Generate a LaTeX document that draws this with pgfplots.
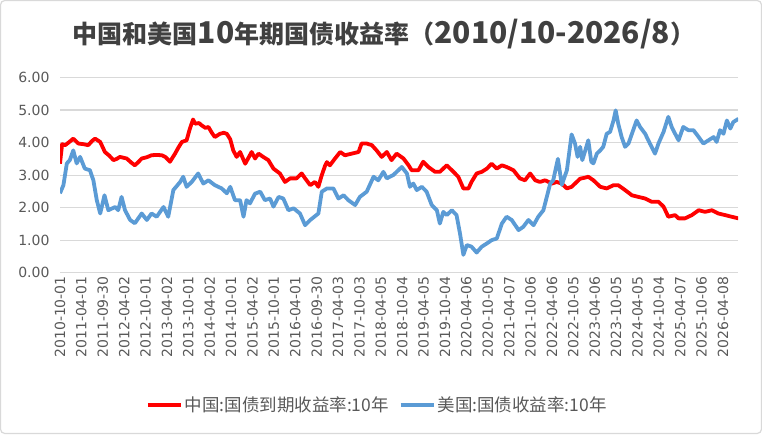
\documentclass[border=0pt]{standalone}
\usepackage{pgfplots}
\pgfplotsset{compat=1.18}
\usepackage{fontspec}
\setmainfont{DejaVu Sans}
\newfontfamily\cjk{Noto Sans CJK SC}
\definecolor{cnred}{HTML}{FF0000}
\definecolor{usblue}{HTML}{5B9BD5}
\definecolor{txtgray}{HTML}{595959}
\definecolor{titlegray}{HTML}{404040}
\definecolor{gridgray}{HTML}{D9D9D9}
\newcommand{\tc}[1]{{\fontsize{25}{30}\selectfont #1}}
\newcommand{\tl}[1]{{\fontsize{30}{30}\selectfont #1}}
\begin{document}
\begin{tikzpicture}
\useasboundingbox (0pt,0pt) rectangle (762pt,434pt);
\draw[color=gridgray, line width=1.2pt, rounded corners=4pt] (0.6pt,0.6pt) rectangle (761.4pt,433.4pt);
\node[font=\cjk\bfseries, text=titlegray, anchor=base, inner sep=0pt] at (384pt,390pt) {\tc{中国和美国}\tl{10}\tc{年期国债收益率（}\tl{2010/10-2026/8}\tc{）}};
\begin{axis}[
  at={(60pt,161.3pt)}, anchor=south west, scale only axis,
  width=678pt, height=195.2pt,
  xmin=2010.75, xmax=2026.6, ymin=0, ymax=6,
  axis line style={draw=none},
  major tick length=0pt,
  ymajorgrids, grid style={color=gridgray, line width=1.2pt},
  ytick={0,1,2,3,4,5,6},
  yticklabels={0.00,1.00,2.00,3.00,4.00,5.00,6.00},
  yticklabel style={font=\fontsize{14}{16}\selectfont, text=txtgray, xshift=-7pt},
  xtick={2010.75,2011.25,2011.75,2012.25,2012.75,2013.25,2013.75,2014.25,2014.75,2015.25,2015.75,2016.25,2016.75,2017.25,2017.75,2018.25,2018.75,2019.25,2019.75,2020.25,2020.75,2021.25,2021.75,2022.25,2022.75,2023.25,2023.75,2024.25,2024.75,2025.25,2025.75,2026.25},
  xticklabels={2010-10-01,2011-04-01,2011-09-30,2012-04-02,2012-10-01,2013-04-02,2013-10-01,2014-04-02,2014-10-01,2015-04-02,2015-10-01,2016-04-01,2016-09-30,2017-04-03,2017-10-03,2018-04-05,2018-10-04,2019-04-05,2019-10-04,2020-04-06,2020-10-05,2021-04-07,2021-10-06,2022-04-06,2022-10-05,2023-04-06,2023-10-05,2024-04-05,2024-10-04,2025-04-07,2025-10-06,2026-04-08},
  xticklabel style={rotate=90, anchor=east, font=\fontsize{14}{16}\selectfont, text=txtgray, xshift=0pt},
  legend style={at={(0.468,-0.678)}, anchor=center, draw=none, fill=none,
    font=\cjk\fontsize{17.5}{19}\selectfont, text=txtgray,
    /tikz/every even column/.append style={column sep=8pt}},
  legend columns=2,
  legend image code/.code={\draw[#1, line width=3.8pt] (0pt,0pt) -- (33pt,0pt);},
]
\addplot[color=cnred, line width=3.8pt, line join=round] coordinates {
(2010.75,3.35)(2010.77,3.60)(2010.80,3.95)(2010.87,3.92)(2010.95,4.00)(2011.06,4.12)(2011.18,3.97)(2011.30,3.95)(2011.41,3.92)(2011.50,4.05)(2011.57,4.12)(2011.69,4.02)(2011.80,3.71)(2011.90,3.60)(2012.00,3.46)(2012.08,3.50)(2012.15,3.56)(2012.31,3.51)(2012.42,3.38)(2012.50,3.30)(2012.58,3.40)(2012.66,3.51)(2012.78,3.55)(2012.89,3.61)(2013.00,3.62)(2013.13,3.61)(2013.22,3.55)(2013.32,3.41)(2013.44,3.66)(2013.52,3.85)(2013.60,4.02)(2013.71,4.07)(2013.78,4.40)(2013.86,4.71)(2013.91,4.58)(2014.00,4.60)(2014.06,4.53)(2014.15,4.45)(2014.22,4.48)(2014.30,4.30)(2014.37,4.17)(2014.49,4.27)(2014.58,4.30)(2014.65,4.27)(2014.73,4.10)(2014.80,3.76)(2014.88,3.56)(2014.96,3.71)(2015.08,3.35)(2015.23,3.71)(2015.31,3.51)(2015.39,3.66)(2015.50,3.56)(2015.62,3.46)(2015.74,3.20)(2015.89,3.05)(2016.01,2.79)(2016.13,2.90)(2016.28,2.90)(2016.40,3.05)(2016.48,2.90)(2016.60,2.69)(2016.71,2.79)(2016.79,2.64)(2016.87,3.00)(2016.95,3.30)(2016.99,3.40)(2017.06,3.30)(2017.18,3.51)(2017.30,3.71)(2017.41,3.61)(2017.57,3.66)(2017.73,3.71)(2017.80,3.97)(2017.92,3.97)(2018.04,3.92)(2018.15,3.76)(2018.27,3.56)(2018.39,3.71)(2018.50,3.46)(2018.62,3.66)(2018.78,3.51)(2018.90,3.30)(2018.97,3.15)(2019.13,3.15)(2019.24,3.41)(2019.36,3.25)(2019.52,3.10)(2019.63,3.10)(2019.79,3.30)(2019.91,3.15)(2020.06,2.95)(2020.18,2.59)(2020.30,2.59)(2020.37,2.79)(2020.49,3.05)(2020.61,3.10)(2020.73,3.20)(2020.84,3.35)(2020.96,3.20)(2021.08,3.30)(2021.19,3.25)(2021.35,3.15)(2021.50,2.90)(2021.62,2.84)(2021.74,3.05)(2021.86,2.84)(2021.97,2.79)(2022.09,2.84)(2022.25,2.74)(2022.36,2.79)(2022.48,2.74)(2022.60,2.59)(2022.71,2.64)(2022.83,2.79)(2022.91,2.89)(2023.02,2.92)(2023.10,2.95)(2023.22,2.84)(2023.38,2.64)(2023.53,2.59)(2023.69,2.69)(2023.80,2.69)(2023.96,2.54)(2024.12,2.38)(2024.27,2.33)(2024.43,2.28)(2024.58,2.18)(2024.74,2.18)(2024.86,2.03)(2024.97,1.72)(2025.13,1.77)(2025.21,1.67)(2025.36,1.67)(2025.52,1.77)(2025.68,1.92)(2025.83,1.87)(2025.99,1.92)(2026.14,1.82)(2026.30,1.77)(2026.45,1.72)(2026.61,1.67)
};
\addlegendentry{中国:国债到期收益率:10年}
\addplot[color=usblue, line width=3.8pt, line join=round] coordinates {
(2010.75,2.44)(2010.83,2.69)(2010.91,3.36)(2010.98,3.46)(2011.06,3.76)(2011.14,3.36)(2011.22,3.56)(2011.33,3.20)(2011.45,3.15)(2011.53,2.84)(2011.61,2.23)(2011.69,1.82)(2011.79,2.38)(2011.88,1.92)(2012.04,2.02)(2012.11,1.92)(2012.19,2.33)(2012.27,1.92)(2012.39,1.62)(2012.50,1.52)(2012.66,1.82)(2012.78,1.62)(2012.89,1.82)(2013.01,1.72)(2013.17,2.02)(2013.28,1.72)(2013.40,2.54)(2013.56,2.79)(2013.63,2.95)(2013.71,2.64)(2013.83,2.79)(2013.98,3.05)(2014.10,2.74)(2014.22,2.84)(2014.37,2.69)(2014.53,2.59)(2014.65,2.44)(2014.73,2.64)(2014.84,2.23)(2014.96,2.23)(2015.04,1.72)(2015.11,2.23)(2015.19,2.13)(2015.31,2.43)(2015.43,2.49)(2015.54,2.23)(2015.66,2.28)(2015.74,2.03)(2015.86,2.33)(2015.97,2.28)(2016.09,1.92)(2016.21,1.98)(2016.36,1.82)(2016.48,1.46)(2016.60,1.62)(2016.79,1.82)(2016.87,2.49)(2016.99,2.59)(2017.14,2.59)(2017.26,2.28)(2017.38,2.38)(2017.49,2.23)(2017.65,2.08)(2017.76,2.33)(2017.92,2.49)(2018.08,2.95)(2018.19,2.84)(2018.31,3.10)(2018.39,2.90)(2018.54,3.00)(2018.66,3.15)(2018.74,3.25)(2018.86,3.05)(2018.93,2.64)(2019.01,2.74)(2019.09,2.54)(2019.21,2.64)(2019.32,2.49)(2019.44,2.08)(2019.56,1.92)(2019.63,1.51)(2019.71,1.87)(2019.79,1.77)(2019.91,1.92)(2020.02,1.77)(2020.10,1.21)(2020.18,0.55)(2020.26,0.85)(2020.37,0.80)(2020.49,0.62)(2020.61,0.80)(2020.73,0.90)(2020.84,1.00)(2020.96,1.05)(2021.08,1.51)(2021.19,1.72)(2021.31,1.62)(2021.47,1.31)(2021.58,1.41)(2021.70,1.62)(2021.82,1.46)(2021.93,1.72)(2022.05,1.92)(2022.13,2.33)(2022.21,2.74)(2022.28,2.84)(2022.39,3.50)(2022.48,2.70)(2022.60,3.15)(2022.71,4.25)(2022.79,3.97)(2022.85,3.56)(2022.91,3.87)(2022.96,3.46)(2023.03,3.76)(2023.10,4.07)(2023.17,3.41)(2023.22,3.36)(2023.30,3.66)(2023.38,3.76)(2023.45,3.87)(2023.53,4.27)(2023.61,4.33)(2023.69,4.68)(2023.74,4.99)(2023.80,4.58)(2023.88,4.17)(2023.96,3.87)(2024.04,3.97)(2024.12,4.27)(2024.23,4.68)(2024.31,4.48)(2024.43,4.27)(2024.54,3.97)(2024.66,3.66)(2024.74,3.97)(2024.86,4.33)(2024.97,4.79)(2025.05,4.48)(2025.13,4.27)(2025.21,4.07)(2025.32,4.48)(2025.44,4.38)(2025.56,4.38)(2025.68,4.17)(2025.79,3.97)(2025.91,4.07)(2026.03,4.17)(2026.10,4.02)(2026.18,4.38)(2026.26,4.27)(2026.34,4.68)(2026.42,4.43)(2026.49,4.63)(2026.61,4.73)
};
\addlegendentry{美国:国债收益率:10年}
\end{axis}
\end{tikzpicture}
\end{document}
